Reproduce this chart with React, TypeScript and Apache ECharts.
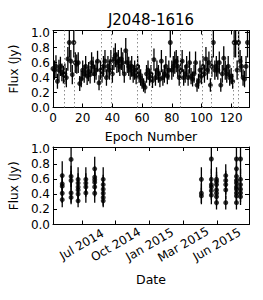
import React, { useEffect, useRef } from "react";
import * as echarts from "echarts";

const chartTitle = "J2048-1616";
const epochTicks = [0, 20, 40, 60, 80, 100, 120];
const fluxTicks = [0, 0.2, 0.4, 0.6, 0.8, 1.0];

// Top panel: flux per epoch (Jy) and its error
const flux = [
  0.52, 0.5, 0.55, 0.35, 0.5, 0.55, 0.47, 0.44, 0.45, 0.4,
  0.65, 0.87, 0.62, 0.44, 0.87, 0.6, 0.58, 0.6, 0.32, 0.38,
  0.5, 0.45, 0.55, 0.42, 0.48, 0.44, 0.6, 0.55, 0.45, 0.5,
  0.62, 0.33, 0.5, 0.45, 0.55, 0.62, 0.4, 0.55, 0.5, 0.62,
  0.45, 0.65, 0.7, 0.6, 0.62, 0.55, 0.65, 0.6, 0.45, 0.76,
  0.6, 0.55, 0.5, 0.55, 0.45, 0.5, 0.42, 0.55, 0.45, 0.4,
  0.35, 0.3, 0.27, 0.45, 0.5, 0.4, 0.45, 0.36, 0.64, 0.4,
  0.5, 0.45, 0.38, 0.62, 0.4, 0.45, 0.55, 0.42, 0.5, 0.87,
  0.5, 0.55, 0.6, 0.62, 0.55, 0.4, 0.5, 0.62, 0.4, 0.45,
  0.55, 0.4, 0.6, 0.42, 0.38, 0.45, 0.6, 0.3, 0.35, 0.5,
  0.42, 0.55, 0.45, 0.65, 0.5, 0.6, 0.3, 0.55, 0.87, 0.5,
  0.55, 0.5, 0.6, 0.3, 0.45, 0.66, 0.5, 0.45, 0.55, 0.4,
  0.42, 0.35, 0.87, 0.87, 0.5, 0.87, 0.62, 0.55, 0.4, 0.38,
  0.55, 0.87,
];
const fluxErr = [
  0.14, 0.13, 0.15, 0.1, 0.14, 0.13, 0.12, 0.12, 0.14, 0.13,
  0.16, 0.2, 0.15, 0.13, 0.2, 0.14, 0.13, 0.14, 0.1, 0.11,
  0.13, 0.12, 0.14, 0.12, 0.13, 0.12, 0.14, 0.13, 0.12, 0.13,
  0.14, 0.1, 0.13, 0.12, 0.14, 0.15, 0.11, 0.14, 0.13, 0.15,
  0.12, 0.15, 0.16, 0.14, 0.15, 0.13, 0.15, 0.14, 0.12, 0.17,
  0.14, 0.13, 0.13, 0.14, 0.12, 0.13, 0.11, 0.14, 0.12, 0.11,
  0.1, 0.09, 0.08, 0.12, 0.13, 0.11, 0.12, 0.1, 0.15, 0.11,
  0.13, 0.12, 0.11, 0.15, 0.11, 0.12, 0.14, 0.11, 0.13, 0.2,
  0.13, 0.14, 0.15, 0.15, 0.14, 0.11, 0.13, 0.15, 0.11, 0.12,
  0.14, 0.11, 0.15, 0.11, 0.1, 0.12, 0.15, 0.09, 0.1, 0.13,
  0.11, 0.14, 0.12, 0.16, 0.13, 0.15, 0.09, 0.14, 0.2, 0.13,
  0.14, 0.13, 0.15, 0.09, 0.12, 0.16, 0.13, 0.12, 0.14, 0.11,
  0.11, 0.1, 0.2, 0.2, 0.13, 0.2, 0.15, 0.14, 0.11, 0.11,
  0.14, 0.2,
];
const sessionBreaks = [7.5, 14.5, 32.5, 39.5, 56.5, 66.5, 85.5, 100.5, 106.5, 121.5, 124.5];

// Bottom panel: observation days (days since 2014-01-01), fluxes per day
const dateTickDays = [181, 273, 365, 456, 547];
const dateTickLabels = ["Jul 2014", "Oct 2014", "Jan 2015", "Mar 2015", "Jun 2015"];
const obsDays = [128, 152, 171, 192, 216, 239, 505, 532, 546, 571, 600, 611];
const obsFlux = [
  [0.65, 0.54, 0.51, 0.415, 0.33],
  [0.865, 0.64, 0.585, 0.42, 0.36],
  [0.6, 0.55, 0.5, 0.46, 0.405, 0.315],
  [0.6, 0.55, 0.5, 0.42],
  [0.74, 0.63, 0.595, 0.56, 0.5, 0.415],
  [0.6, 0.53, 0.47, 0.415, 0.36, 0.315],
  [0.6, 0.415, 0.38],
  [0.87, 0.6, 0.53, 0.5, 0.45, 0.39],
  [0.6, 0.57, 0.53, 0.46, 0.415, 0.37, 0.29],
  [0.65, 0.585, 0.53, 0.46, 0.29],
  [0.87, 0.74, 0.64, 0.585, 0.55, 0.5, 0.47, 0.42, 0.38, 0.29],
  [0.87, 0.6, 0.53, 0.47, 0.42, 0.37],
];
const obsErr = [
  [0.19, 0.13, 0.13, 0.13, 0.1],
  [0.2, 0.14, 0.13, 0.13, 0.09],
  [0.16, 0.13, 0.13, 0.12, 0.12, 0.085],
  [0.16, 0.13, 0.13, 0.13],
  [0.16, 0.14, 0.13, 0.13, 0.13, 0.125],
  [0.16, 0.13, 0.12, 0.12, 0.11, 0.085],
  [0.16, 0.13, 0.11],
  [0.2, 0.14, 0.13, 0.13, 0.12, 0.12],
  [0.16, 0.13, 0.13, 0.12, 0.12, 0.12, 0.09],
  [0.15, 0.13, 0.13, 0.12, 0.09],
  [0.2, 0.15, 0.14, 0.13, 0.13, 0.13, 0.12, 0.12, 0.11, 0.09],
  [0.2, 0.14, 0.13, 0.12, 0.12, 0.11],
];

const FONT = "DejaVu Sans";

const errorBarRender = (params: any, api: any) => {
  const x = api.value(0);
  const p1 = api.coord([x, api.value(1)]);
  const p2 = api.coord([x, api.value(2)]);
  return {
    type: "line",
    shape: { x1: p1[0], y1: p1[1], x2: p2[0], y2: p2[1] },
    style: { stroke: "#000", lineWidth: 1.3 },
  };
};

function valueAxis(grid: number, opts: any) {
  return {
    type: "value",
    gridIndex: grid,
    axisLine: { show: true, onZero: false, lineStyle: { color: "#000", width: 1 } },
    axisTick: { show: true, inside: true, length: 4, lineStyle: { color: "#000" } },
    splitLine: { show: false },
    ...opts,
  };
}

export default function App() {
  const ref = useRef<HTMLDivElement>(null);
  useEffect(() => {
    if (!ref.current) return;
    const chart = echarts.init(ref.current, null, { renderer: "svg" });

    const topErr = flux.map((v, i) => [i, v - fluxErr[i], v + fluxErr[i]]);
    const topPts = flux.map((v, i) => [i, v]);
    const botErr: number[][] = [];
    const botPts: number[][] = [];
    obsDays.forEach((d, g) => {
      obsFlux[g].forEach((v, k) => {
        const e = obsErr[g][k];
        botErr.push([d, v - e, v + e]);
        botPts.push([d, v]);
      });
    });

    const labelStyle = { color: "#000", fontSize: 12, fontFamily: FONT };
    const yLabel = (show: boolean) => ({
      show,
      ...labelStyle,
      margin: 3,
      customValues: fluxTicks,
      formatter: (v: number) => v.toFixed(1),
    });
    const yTick = { show: true, inside: true, length: 4, customValues: fluxTicks, lineStyle: { color: "#000" } };

    const dateFmt = (v: number) => {
      const i = dateTickDays.indexOf(v);
      return i >= 0 ? dateTickLabels[i] : "";
    };

    chart.setOption({
      animation: false,
      graphic: [
        {
          type: "text",
          x: 151,
          y: 20,
          style: {
            text: chartTitle,
            fontSize: 15,
            fontFamily: FONT,
            fill: "#000",
            textAlign: "center",
            textVerticalAlign: "middle",
          },
        },
      ],
      grid: [
        { left: 53, top: 30.5, width: 196, height: 77 },
        { left: 53, top: 147, width: 196, height: 77.5 },
      ],
      xAxis: [
        valueAxis(0, {
          min: 0,
          max: 132,
          position: "bottom",
          axisLabel: { ...labelStyle, margin: 4, customValues: epochTicks },
          axisTick: { show: true, inside: true, length: 4, customValues: epochTicks, lineStyle: { color: "#000" } },
          name: "Epoch Number",
          nameLocation: "middle",
          nameGap: 22,
          nameTextStyle: { color: "#000", fontSize: 12.5, fontFamily: FONT },
        }),
        valueAxis(0, {
          min: 0,
          max: 132,
          position: "top",
          axisLabel: { show: false },
          axisTick: { show: true, inside: true, length: 4, customValues: epochTicks, lineStyle: { color: "#000" } },
        }),
        valueAxis(1, {
          min: 103,
          max: 634,
          position: "bottom",
          axisLabel: {
            ...labelStyle,
            rotate: 30,
            align: "center",
            verticalAlign: "middle",
            margin: 20,
            customValues: dateTickDays,
            formatter: dateFmt,
          },
          axisTick: { show: true, inside: true, length: 4, customValues: dateTickDays, lineStyle: { color: "#000" } },
          name: "Date",
          nameLocation: "middle",
          nameGap: 48,
          nameTextStyle: { color: "#000", fontSize: 12.5, fontFamily: FONT },
        }),
        valueAxis(1, {
          min: 103,
          max: 634,
          position: "top",
          axisLabel: { show: false },
          axisTick: { show: true, inside: true, length: 4, customValues: dateTickDays, lineStyle: { color: "#000" } },
        }),
      ],
      yAxis: [
        valueAxis(0, {
          min: 0,
          max: 1.03,
          position: "left",
          axisLabel: yLabel(true),
          axisTick: yTick,
          name: "Flux (Jy)",
          nameLocation: "middle",
          nameGap: 18,
          nameTextStyle: { color: "#000", fontSize: 12, fontFamily: FONT },
        }),
        valueAxis(0, { min: 0, max: 1.03, position: "right", axisLabel: yLabel(false), axisTick: yTick }),
        valueAxis(1, {
          min: 0,
          max: 1.03,
          position: "left",
          axisLabel: yLabel(true),
          axisTick: yTick,
          name: "Flux (Jy)",
          nameLocation: "middle",
          nameGap: 19,
          nameTextStyle: { color: "#000", fontSize: 12, fontFamily: FONT },
        }),
        valueAxis(1, { min: 0, max: 1.03, position: "right", axisLabel: yLabel(false), axisTick: yTick }),
      ],
      series: [
        {
          type: "custom",
          xAxisIndex: 0,
          yAxisIndex: 0,
          renderItem: errorBarRender,
          data: topErr,
          encode: { x: 0, y: [1, 2] },
          clip: true,
          silent: true,
          z: 2,
          markLine: {
            silent: true,
            symbol: "none",
            label: { show: false },
            lineStyle: { type: [1.5, 2.5], color: "#8c8c8c", width: 1 },
            data: sessionBreaks.map((b) => ({ xAxis: b })),
          },
        },
        {
          type: "scatter",
          xAxisIndex: 0,
          yAxisIndex: 0,
          data: topPts,
          symbolSize: 5,
          itemStyle: { color: "#000" },
          silent: true,
          z: 3,
        },
        {
          type: "custom",
          xAxisIndex: 2,
          yAxisIndex: 2,
          renderItem: errorBarRender,
          data: botErr,
          encode: { x: 0, y: [1, 2] },
          clip: true,
          silent: true,
          z: 2,
        },
        {
          type: "scatter",
          xAxisIndex: 2,
          yAxisIndex: 2,
          data: botPts,
          symbolSize: 5,
          itemStyle: { color: "#000" },
          silent: true,
          z: 3,
        },
      ],
    });
    return () => chart.dispose();
  }, []);
  return <div ref={ref} style={{ position: "absolute", left: 0, top: 0, width: 263, height: 300 }} />;
}
